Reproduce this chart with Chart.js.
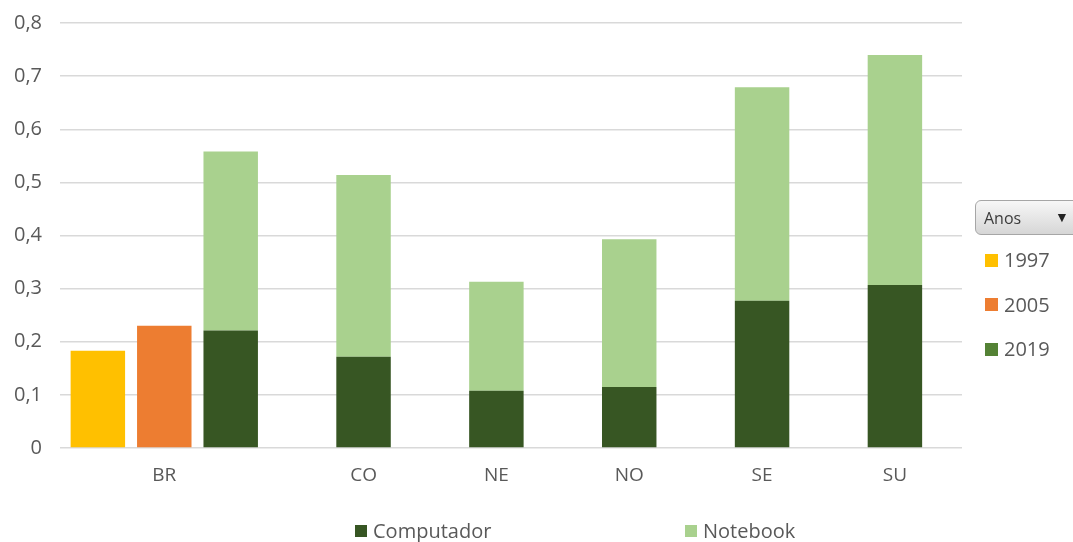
<!DOCTYPE html>
<html><head><meta charset="utf-8">
<script src="https://cdn.jsdelivr.net/npm/chart.js@4/dist/chart.umd.min.js"></script>
<style>
html,body{margin:0;padding:0;background:#fff;}
#wrap{position:relative;width:1073px;height:542px;overflow:hidden;font-family:'Open Sans',sans-serif;color:#595959;}
canvas{position:absolute;left:0;top:0;}
.leg{position:absolute;display:flex;align-items:center;font-size:20px;white-space:nowrap;line-height:1;}
.sw{display:inline-block;width:12px;height:12px;margin-right:6px;}
#anos{position:absolute;left:975px;top:200px;width:110px;height:35px;border:1px solid #a6a6a6;border-radius:6px;background:linear-gradient(#f7f7f7,#d6d6d6);box-sizing:border-box;font-size:16px;color:#3b3b3b;}
</style></head>
<body><div id="wrap"><canvas id="c" width="1073" height="542"></canvas>
<div id="anos"><span style="position:absolute;left:8px;top:6px">Anos</span><span style="position:absolute;left:79px;top:6px;font-size:14px;color:#222">▼</span></div>
</div>
<script>
// ---- data ----
const regions = ['BR', 'CO', 'NE', 'NO', 'SE', 'SU'];
const years = ['1997', '2005', '2019'];
const yearColors = ['#FFC000', '#ED7D31', '#548235'];
const seriesNames = ['Computador', 'Notebook'];
const seriesColors = ['#375623', '#A9D18E'];
const brComputador1997 = 0.183;
const brComputador2005 = 0.230;
const computador2019 = [0.221, 0.172, 0.108, 0.115, 0.277, 0.307];
const notebook2019 = [0.337, 0.342, 0.205, 0.278, 0.402, 0.433];
const yTickValues = [0, 0.1, 0.2, 0.3, 0.4, 0.5, 0.6, 0.7, 0.8];

// ---- slot layout: BR has 3 bars (1997, 2005, 2019), other regions one 2019 bar ----
const nSlots = 3 + 2 * (regions.length - 1);
const slotLabels = Array(nSlots).fill('');
const d1997 = Array(nSlots).fill(null);
const d2005 = Array(nSlots).fill(null);
const dComp = Array(nSlots).fill(null);
const dNote = Array(nSlots).fill(null);
slotLabels[1] = regions[0];
d1997[0] = brComputador1997;
d2005[1] = brComputador2005;
dComp[2] = computador2019[0];
dNote[2] = notebook2019[0];
for (let i = 1; i < regions.length; i++) {
  const s = 2 + 2 * i;
  slotLabels[s] = regions[i];
  dComp[s] = computador2019[i];
  dNote[s] = notebook2019[i];
}

const FONT = "'Open Sans', sans-serif";
Chart.defaults.font.family = FONT;
Chart.defaults.color = '#595959';

const common = {stack: 's', borderWidth: 0, barPercentage: 0.82, categoryPercentage: 1};
new Chart(document.getElementById('c'), {
  type: 'bar',
  data: {
    labels: slotLabels,
    datasets: [
      Object.assign({label: years[0], data: d1997, backgroundColor: yearColors[0]}, common),
      Object.assign({label: years[1], data: d2005, backgroundColor: yearColors[1]}, common),
      Object.assign({label: seriesNames[0], data: dComp, backgroundColor: seriesColors[0]}, common),
      Object.assign({label: seriesNames[1], data: dNote, backgroundColor: seriesColors[1]}, common)
    ]
  },
  options: {
    responsive: false,
    animation: false,
    layout: {padding: {left: 0, top: 23, right: 111, bottom: 0}},
    plugins: {legend: {display: false}, tooltip: {enabled: false}},
    scales: {
      x: {
        stacked: true,
        grid: {display: false, drawTicks: false},
        border: {display: false},
        ticks: {autoSkip: false, maxRotation: 0, padding: 16, font: {size: 19}, color: '#595959'},
        afterFit(s) { s.height = 94; },
        afterBuildTicks(s) { s._startValue = -0.57; s._valueRange = nSlots + 0.58; }
      },
      y: {
        stacked: true,
        min: 0, max: 0.8,
        afterBuildTicks(s) { s.ticks = yTickValues.map(v => ({value: v})); },
        grid: {color: '#d9d9d9', lineWidth: 1.5, drawTicks: false},
        border: {display: false},
        ticks: {
          padding: 18, font: {size: 20}, color: '#595959',
          callback: v => (v === 0 ? '0' : v.toFixed(1).replace('.', ','))
        },
        afterFit(s) { s.width = 60; s.paddingTop = 0; s.paddingBottom = 0; }
      }
    }
  }
});

// ---- legends (HTML) ----
const wrap = document.getElementById('wrap');
function addLeg(text, color, x, y, sw) {
  const d = document.createElement('div');
  d.className = 'leg';
  d.style.left = x + 'px';
  d.style.top = y + 'px';
  d.innerHTML = '<span class="sw" style="background:' + color + ';width:' + sw + 'px;height:' + sw + 'px"></span>' + text;
  wrap.appendChild(d);
}
years.forEach((y, i) => addLeg(y, yearColors[i], 985, 250 + i * 44.5, 13));
const bottomX = [355, 685];
seriesNames.forEach((n, i) => addLeg(n, seriesColors[i], bottomX[i], 521, 12));
</script>
</body></html>
